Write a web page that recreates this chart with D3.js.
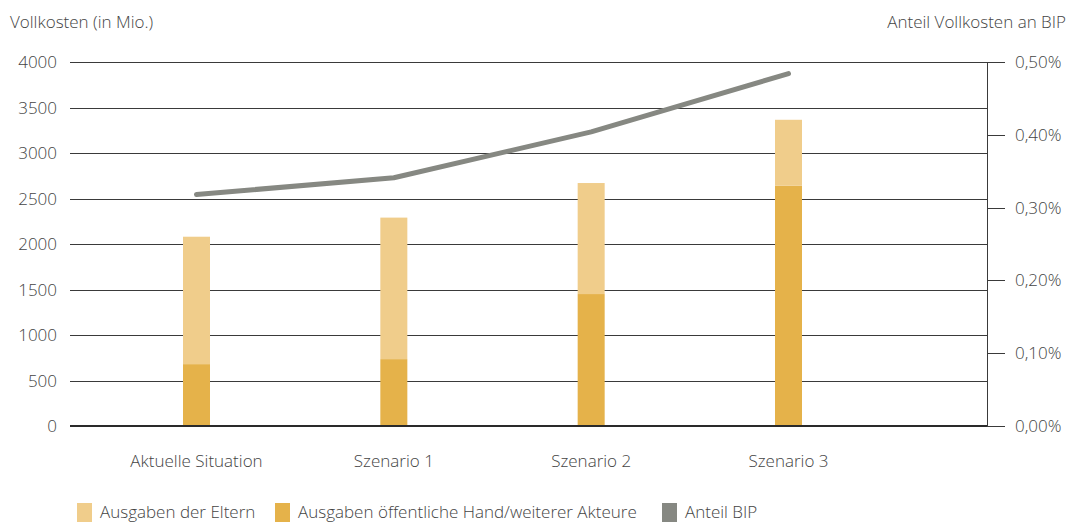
<!DOCTYPE html>
<meta charset="utf-8">
<script src="https://d3js.org/d3.v7.min.js"></script>
<style>
  body { margin: 0; background: #fff; }
  text { font-family: "Open Sans", sans-serif; font-weight: 300; fill: #444; }
</style>
<div id="chart"></div>
<script>
// data
var categories = ["Aktuelle Situation", "Szenario 1", "Szenario 2", "Szenario 3"];
var eltern     = [1400, 1555, 1220, 725];   // Ausgaben der Eltern (upper part)
var oeffentlich = [680, 735, 1450, 2640];   // Ausgaben öffentliche Hand/weiterer Akteure
var anteilBIP  = [0.318, 0.341, 0.404, 0.484]; // Anteil BIP in %
var leftTicks  = [0, 500, 1000, 1500, 2000, 2500, 3000, 3500, 4000];
var rightTicks = [0, 0.1, 0.2, 0.3, 0.4, 0.5];
var legendItems = ["Ausgaben der Eltern", "Ausgaben öffentliche Hand/weiterer Akteure", "Anteil BIP"];
var colors = ["#f0cd8b", "#e5b24a", "#868882"];

var W = 1071, H = 522;
var m = {left: 70, right: 987, top: 62, bottom: 426};
var fs = "17px";

var svg = d3.select("#chart").append("svg")
    .attr("width", W).attr("height", H);

var y = d3.scaleLinear().domain([0, 4000]).range([m.bottom, m.top]);
var y2 = d3.scaleLinear().domain([0, 0.5]).range([m.bottom, m.top]);
var x = d3.scalePoint().domain(categories).range([196.5, 788.5]);
var barW = 27;

// gridlines
svg.append("g").selectAll("line")
  .data(leftTicks.filter(function(d){ return d > 0; }))
  .enter().append("line")
    .attr("x1", m.left).attr("x2", m.right)
    .attr("y1", function(d){ return Math.round(y(d)) + 0.5; })
    .attr("y2", function(d){ return Math.round(y(d)) + 0.5; })
    .attr("stroke", "#3a3a3a").attr("stroke-width", 1);

// left labels
svg.append("g").selectAll("text")
  .data(leftTicks)
  .enter().append("text")
    .attr("x", 57)
    .attr("y", function(d){ return y(d) + 6; })
    .attr("text-anchor", "end")
    .style("font-size", fs)
    .text(function(d){ return d; });

// right axis
svg.append("line")
  .attr("x1", m.right + 0.5).attr("x2", m.right + 0.5)
  .attr("y1", m.top).attr("y2", m.bottom)
  .attr("stroke", "#3a3a3a");
svg.append("g").selectAll("line")
  .data(rightTicks)
  .enter().append("line")
    .attr("x1", m.right).attr("x2", 1005)
    .attr("y1", function(d){ return Math.round(y2(d)) + 0.5; })
    .attr("y2", function(d){ return Math.round(y2(d)) + 0.5; })
    .attr("stroke", "#3a3a3a");
svg.append("g").selectAll("text")
  .data(rightTicks)
  .enter().append("text")
    .attr("x", 1015)
    .attr("y", function(d){ return y2(d) + 6; })
    .style("font-size", fs)
    .text(function(d){ return d.toFixed(2).replace(".", ",") + "%"; });

// axis titles
svg.append("text").attr("x", 10).attr("y", 28)
  .style("font-size", fs).text("Vollkosten (in Mio.)");
svg.append("text").attr("x", 1066).attr("y", 28).attr("text-anchor", "end")
  .style("font-size", fs).text("Anteil Vollkosten an BIP");

// bars
var bars = svg.append("g");
bars.selectAll(".low")
  .data(categories)
  .enter().append("rect")
    .attr("x", function(d){ return x(d) - barW / 2; })
    .attr("width", barW)
    .attr("y", function(d, i){ return y(oeffentlich[i]); })
    .attr("height", function(d, i){ return y(0) - y(oeffentlich[i]); })
    .attr("fill", colors[1]);
bars.selectAll(".high")
  .data(categories)
  .enter().append("rect")
    .attr("x", function(d){ return x(d) - barW / 2; })
    .attr("width", barW)
    .attr("y", function(d, i){ return y(oeffentlich[i] + eltern[i]); })
    .attr("height", function(d, i){ return y(oeffentlich[i]) - y(oeffentlich[i] + eltern[i]); })
    .attr("fill", colors[0]);

// baseline
svg.append("line")
  .attr("x1", m.left).attr("x2", m.right)
  .attr("y1", m.bottom).attr("y2", m.bottom)
  .attr("stroke", "#2a2a2a").attr("stroke-width", 2);

// line
var line = d3.line()
  .x(function(d, i){ return x(categories[i]); })
  .y(function(d){ return y2(d); });
svg.append("path")
  .datum(anteilBIP)
  .attr("d", line)
  .attr("fill", "none")
  .attr("stroke", colors[2])
  .attr("stroke-width", 5)
  .attr("stroke-linecap", "round")
  .attr("stroke-linejoin", "round");

// category labels
svg.append("g").selectAll("text")
  .data(categories)
  .enter().append("text")
    .attr("x", function(d){ return x(d); })
    .attr("y", 467)
    .attr("text-anchor", "middle")
    .style("font-size", fs)
    .text(function(d){ return d; });

// legend
var legendX = [77, 275, 662];
var lg = svg.append("g").selectAll("g")
  .data(legendItems)
  .enter().append("g")
    .attr("transform", function(d, i){ return "translate(" + legendX[i] + ",503)"; });
lg.append("rect").attr("width", 15).attr("height", 19)
  .attr("fill", function(d, i){ return colors[i]; });
lg.append("text").attr("x", 23).attr("y", 15)
  .style("font-size", fs)
  .text(function(d){ return d; });
</script>
